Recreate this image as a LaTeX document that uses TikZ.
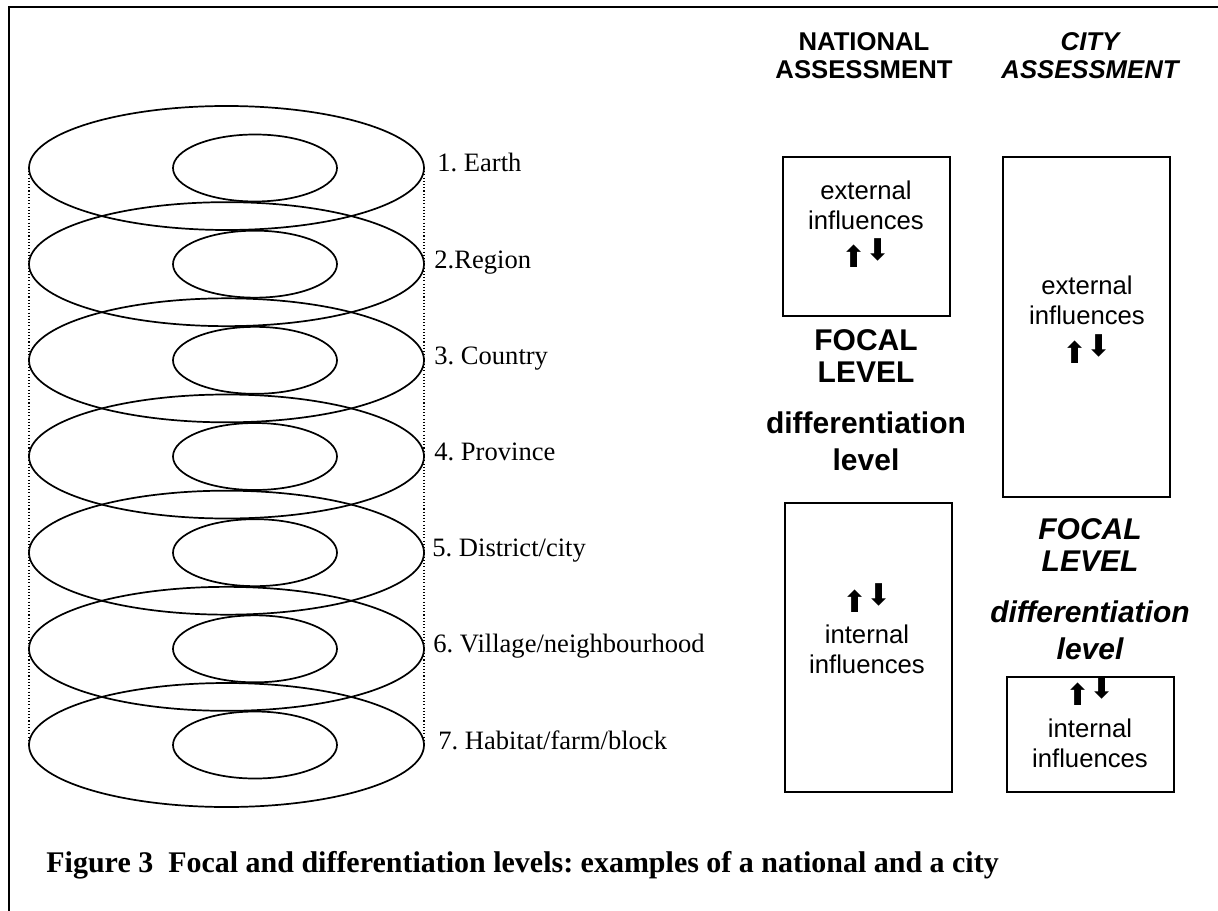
\documentclass[tikz,border=0pt]{standalone}
\usepackage{fontspec}
\setmainfont{Liberation Serif}
\setsansfont{Liberation Sans}
\newfontfamily\arrowfont{DejaVu Sans}
\usetikzlibrary{positioning}
\frenchspacing

\begin{document}
\begin{tikzpicture}[x=0.467pt, y=-0.467pt,
  ring/.style={line width=0.8pt},
  rim/.style={densely dotted, line width=0.5pt},
  lvl/.style={anchor=base west, inner sep=0pt, font=\fontsize{12.4}{14}\selectfont},
  head/.style={align=center, font=\sffamily\bfseries\fontsize{12}{13.1}\selectfont},
  headit/.style={head, font=\sffamily\bfseries\itshape\fontsize{12}{13.1}\selectfont},
  infl/.style={align=center, font=\sffamily\fontsize{12}{14}\selectfont},
  focal/.style={align=center, font=\sffamily\bfseries#1\fontsize{14}{15}\selectfont},
  focal/.default={},
  diff/.style={align=center, font=\sffamily\bfseries#1\fontsize{14}{17.3}\selectfont},
  diff/.default={},
  box/.style={draw, line width=0.9pt},
  updown/.style={inner sep=0pt, font=\arrowfont\fontsize{14}{14}\selectfont}
]
\useasboundingbox (0,0) rectangle (1218,911);
\draw[line width=0.9pt] (1218,7) -- (9,7) -- (9,911);

% the seven levels
\foreach \i/\t/\dx in {1/{1. Earth}/3, 2/{2.Region}/0, 3/{3. Country}/0,
    4/{4. Province}/0, 5/{5. District/city}/-2,
    6/{6. Village/neighbourhood}/-1, 7/{7. Habitat/farm/block}/4}
{
  \pgfmathsetmacro\y{168+96.17*(\i-1)}
  \coordinate (w\i) at (29,\y);
  \coordinate (e\i) at (424,\y);
  \draw[ring] (226.5,\y) ellipse [x radius=197.5, y radius=62];
  \draw[ring] (255,\y) ellipse [x radius=82, y radius=33.5];
  \node[lvl] (lab\i) at (434+\dx,\y+4) {\t};
}
\draw[rim] (w1) -- (w7);
\draw[rim] (e1) -- (e7);

% national assessment
\node[head] (nat) at (864,56) {NATIONAL\\ASSESSMENT};
\draw[box] (783,157) rectangle (950,316);
\node[infl] (natext) at (866,205) {external\\influences};
\node[updown] (natextarr) at (866,253) {⬆\kern-0.5pt\raisebox{3.3pt}{⬇}};
\node[focal] (natfocal) at (866,356) {FOCAL\\LEVEL};
\node[diff] (natdiff) at (866,441) {differentiation\\level};
\draw[box] (785,503) rectangle (952,792);
\node[updown] (natintarr) at (867,598) {⬆\kern-0.5pt\raisebox{3.3pt}{⬇}};
\node[infl] (natint) at (867,649) {internal\\influences};

% city assessment
\node[headit] (city) at (1090,56) {CITY\\ASSESSMENT};
\draw[box] (1003,157) rectangle (1170,497);
\node[infl] (cityext) at (1087,300) {external\\influences};
\node[updown] (cityextarr) at (1087,349) {⬆\kern-0.5pt\raisebox{3.3pt}{⬇}};
\node[focal=\itshape] (cityfocal) at (1090,545) {FOCAL\\LEVEL};
\node[diff=\itshape] (citydiff) at (1090,630) {differentiation\\level};
\draw[box] (1007,677) rectangle (1174,792);
\node[updown] (cityintarr) at (1090,691) {⬆\kern-0.5pt\raisebox{3.3pt}{⬇}};
\node[infl] (cityint) at (1090,743) {internal\\influences};

\node[anchor=base west, inner sep=0pt, font=\bfseries\fontsize{14}{16}\selectfont] (cap) at (46,873)
  {Figure 3\ \ Focal and differentiation levels: examples of a national and a city};
\end{tikzpicture}
\end{document}
